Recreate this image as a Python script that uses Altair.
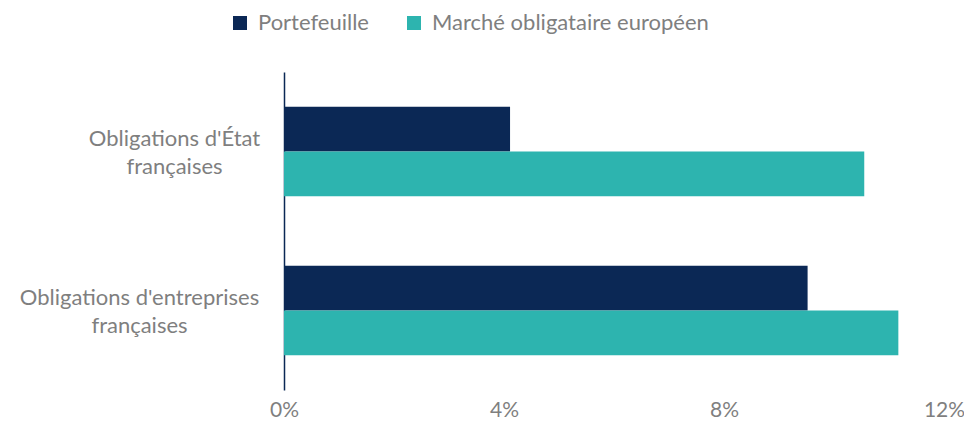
import altair as alt
import pandas as pd

categories = ["Obligations d'État françaises", "Obligations d'entreprises françaises"]
series = ["Portefeuille", "Marché obligataire européen"]
portefeuille = [0.0411, 0.0952]
marche = [0.1055, 0.1117]
colors = ["#0B2855", "#2DB4AF"]

rows = []
for i, c in enumerate(categories):
    rows.append({"cat": c, "serie": series[0], "val": portefeuille[i], "o": 0})
    rows.append({"cat": c, "serie": series[1], "val": marche[i], "o": 1})
df = pd.DataFrame(rows)

FONT = "Lato"
GRAY = "#7F7F7F"

chart = alt.Chart(df).mark_bar().encode(
    y=alt.Y("cat:N", sort=categories, title=None,
            scale=alt.Scale(paddingInner=0.4375, paddingOuter=0.21875),
            axis=alt.Axis(ticks=False, domain=True, domainColor="#0B2855", domainWidth=1.5,
                          labelFont=FONT, labelFontSize=22, labelColor=GRAY,
                          labelAlign="center", labelLimit=400,
                          labelPadding={"condition": {"test": "indexof(datum.value, 'tat') >= 0", "value": 110},
                                        "value": 145},
                          labelOffset=-13,
                          labelExpr="split(replace(datum.label, ' français', '|français'), '|')",
                          labelLineHeight=28)),
    yOffset=alt.YOffset("o:O", sort=[0, 1]),
    x=alt.X("val:Q", title=None,
            scale=alt.Scale(domain=[0, 0.12], nice=False),
            axis=alt.Axis(values=[0, 0.04, 0.08, 0.12], format=".0%", grid=False, ticks=False, domain=False,
                          labelFlush=False, labelBaseline="top",
                          labelFont=FONT, labelFontSize=21, labelColor=GRAY, labelPadding=9)),
    color=alt.Color("serie:N", sort=series, title=None,
                    scale=alt.Scale(domain=series, range=colors),
                    legend=alt.Legend(orient="none", legendX=-55, legendY=-60, direction="horizontal",
                                      symbolType="square", symbolSize=196, symbolStrokeWidth=0,
                                      labelFont=FONT, labelFontSize=22, labelColor=GRAY, labelLimit=500,
                                      columnPadding=34, symbolOffset=0, labelOffset=7)),
).properties(
    width=660, height=318,
    autosize=alt.AutoSizeParams(type="none"),
    padding={"left": 276, "top": 64, "right": 20, "bottom": 36},
).configure_view(stroke=None)

chart.save("out.html", embed_options={"renderer": "svg", "actions": False})
